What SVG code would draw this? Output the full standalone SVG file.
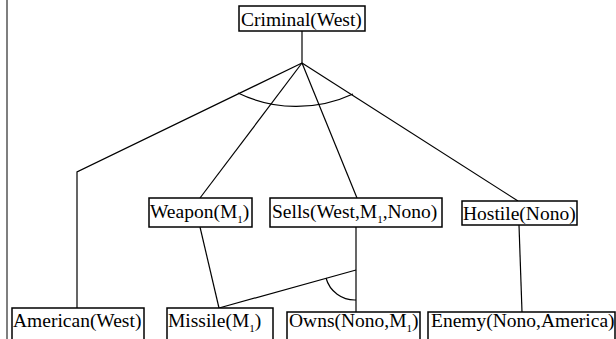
<svg xmlns="http://www.w3.org/2000/svg" width="616" height="339" viewBox="0 0 616 339">
<style>
.box{fill:#fff;stroke:#000;stroke-width:1.5}
.t{font-family:"Liberation Serif","Times New Roman",serif;font-size:19.5px;fill:#000}
.s{font-size:11px}
.c{fill:none;stroke:#000;stroke-width:1.2}
</style>
<rect width="616" height="339" fill="#fff"/>
<line x1="7" y1="0" x2="7" y2="339" stroke="#555" stroke-width="1.5"/>
<g id="connectors">
<line class="c" x1="302" y1="31" x2="302" y2="63"/>
<polyline class="c" points="302,63 77,172 77,308"/>
<line class="c" x1="302" y1="63" x2="200" y2="198"/>
<line class="c" x1="302" y1="63" x2="357" y2="198"/>
<line class="c" x1="302" y1="63" x2="518" y2="201"/>
<path class="c" d="M238,93 A134,134 0 0 0 353,94"/>
<line class="c" x1="200" y1="227" x2="219" y2="308"/>
<line class="c" x1="356" y1="227" x2="356" y2="312"/>
<line class="c" x1="219" y1="308" x2="356" y2="270"/>
<path class="c" d="M326,278 A30,30 0 0 0 356,300"/>
<line class="c" x1="519" y1="225" x2="522" y2="312"/>
</g>
<g id="criminal"><rect class="box" x="239" y="6" width="126" height="25"/><text class="t" x="241" y="26">Criminal(West)</text></g>
<g id="weapon"><rect class="box" x="149" y="198" width="103" height="29"/><text class="t" x="150" y="218">Weapon(M<tspan class="s" dy="5">1</tspan><tspan dy="-5">)</tspan></text></g>
<g id="sells"><rect class="box" x="270" y="198" width="172" height="29"/><text class="t" x="272" y="218">Sells(West,M<tspan class="s" dy="5">1</tspan><tspan dy="-5">,Nono)</tspan></text></g>
<g id="hostile"><rect class="box" x="462" y="201" width="115" height="24"/><text class="t" x="463" y="220">Hostile(Nono)</text></g>
<g id="american"><rect class="box" x="12" y="308" width="132" height="34"/><text class="t" x="13" y="327">American(West)</text></g>
<g id="missile"><rect class="box" x="167" y="308" width="106" height="34"/><text class="t" x="168" y="327">Missile(M<tspan class="s" dy="5">1</tspan><tspan dy="-5">)</tspan></text></g>
<g id="owns"><rect class="box" x="287" y="312" width="133" height="30"/><text class="t" x="289" y="327">Owns(Nono,M<tspan class="s" dy="5">1</tspan><tspan dy="-5">)</tspan></text></g>
<g id="enemy"><rect class="box" x="428" y="312" width="187" height="30"/><text class="t" x="431" y="327">Enemy(Nono,America)</text></g>
</svg>
